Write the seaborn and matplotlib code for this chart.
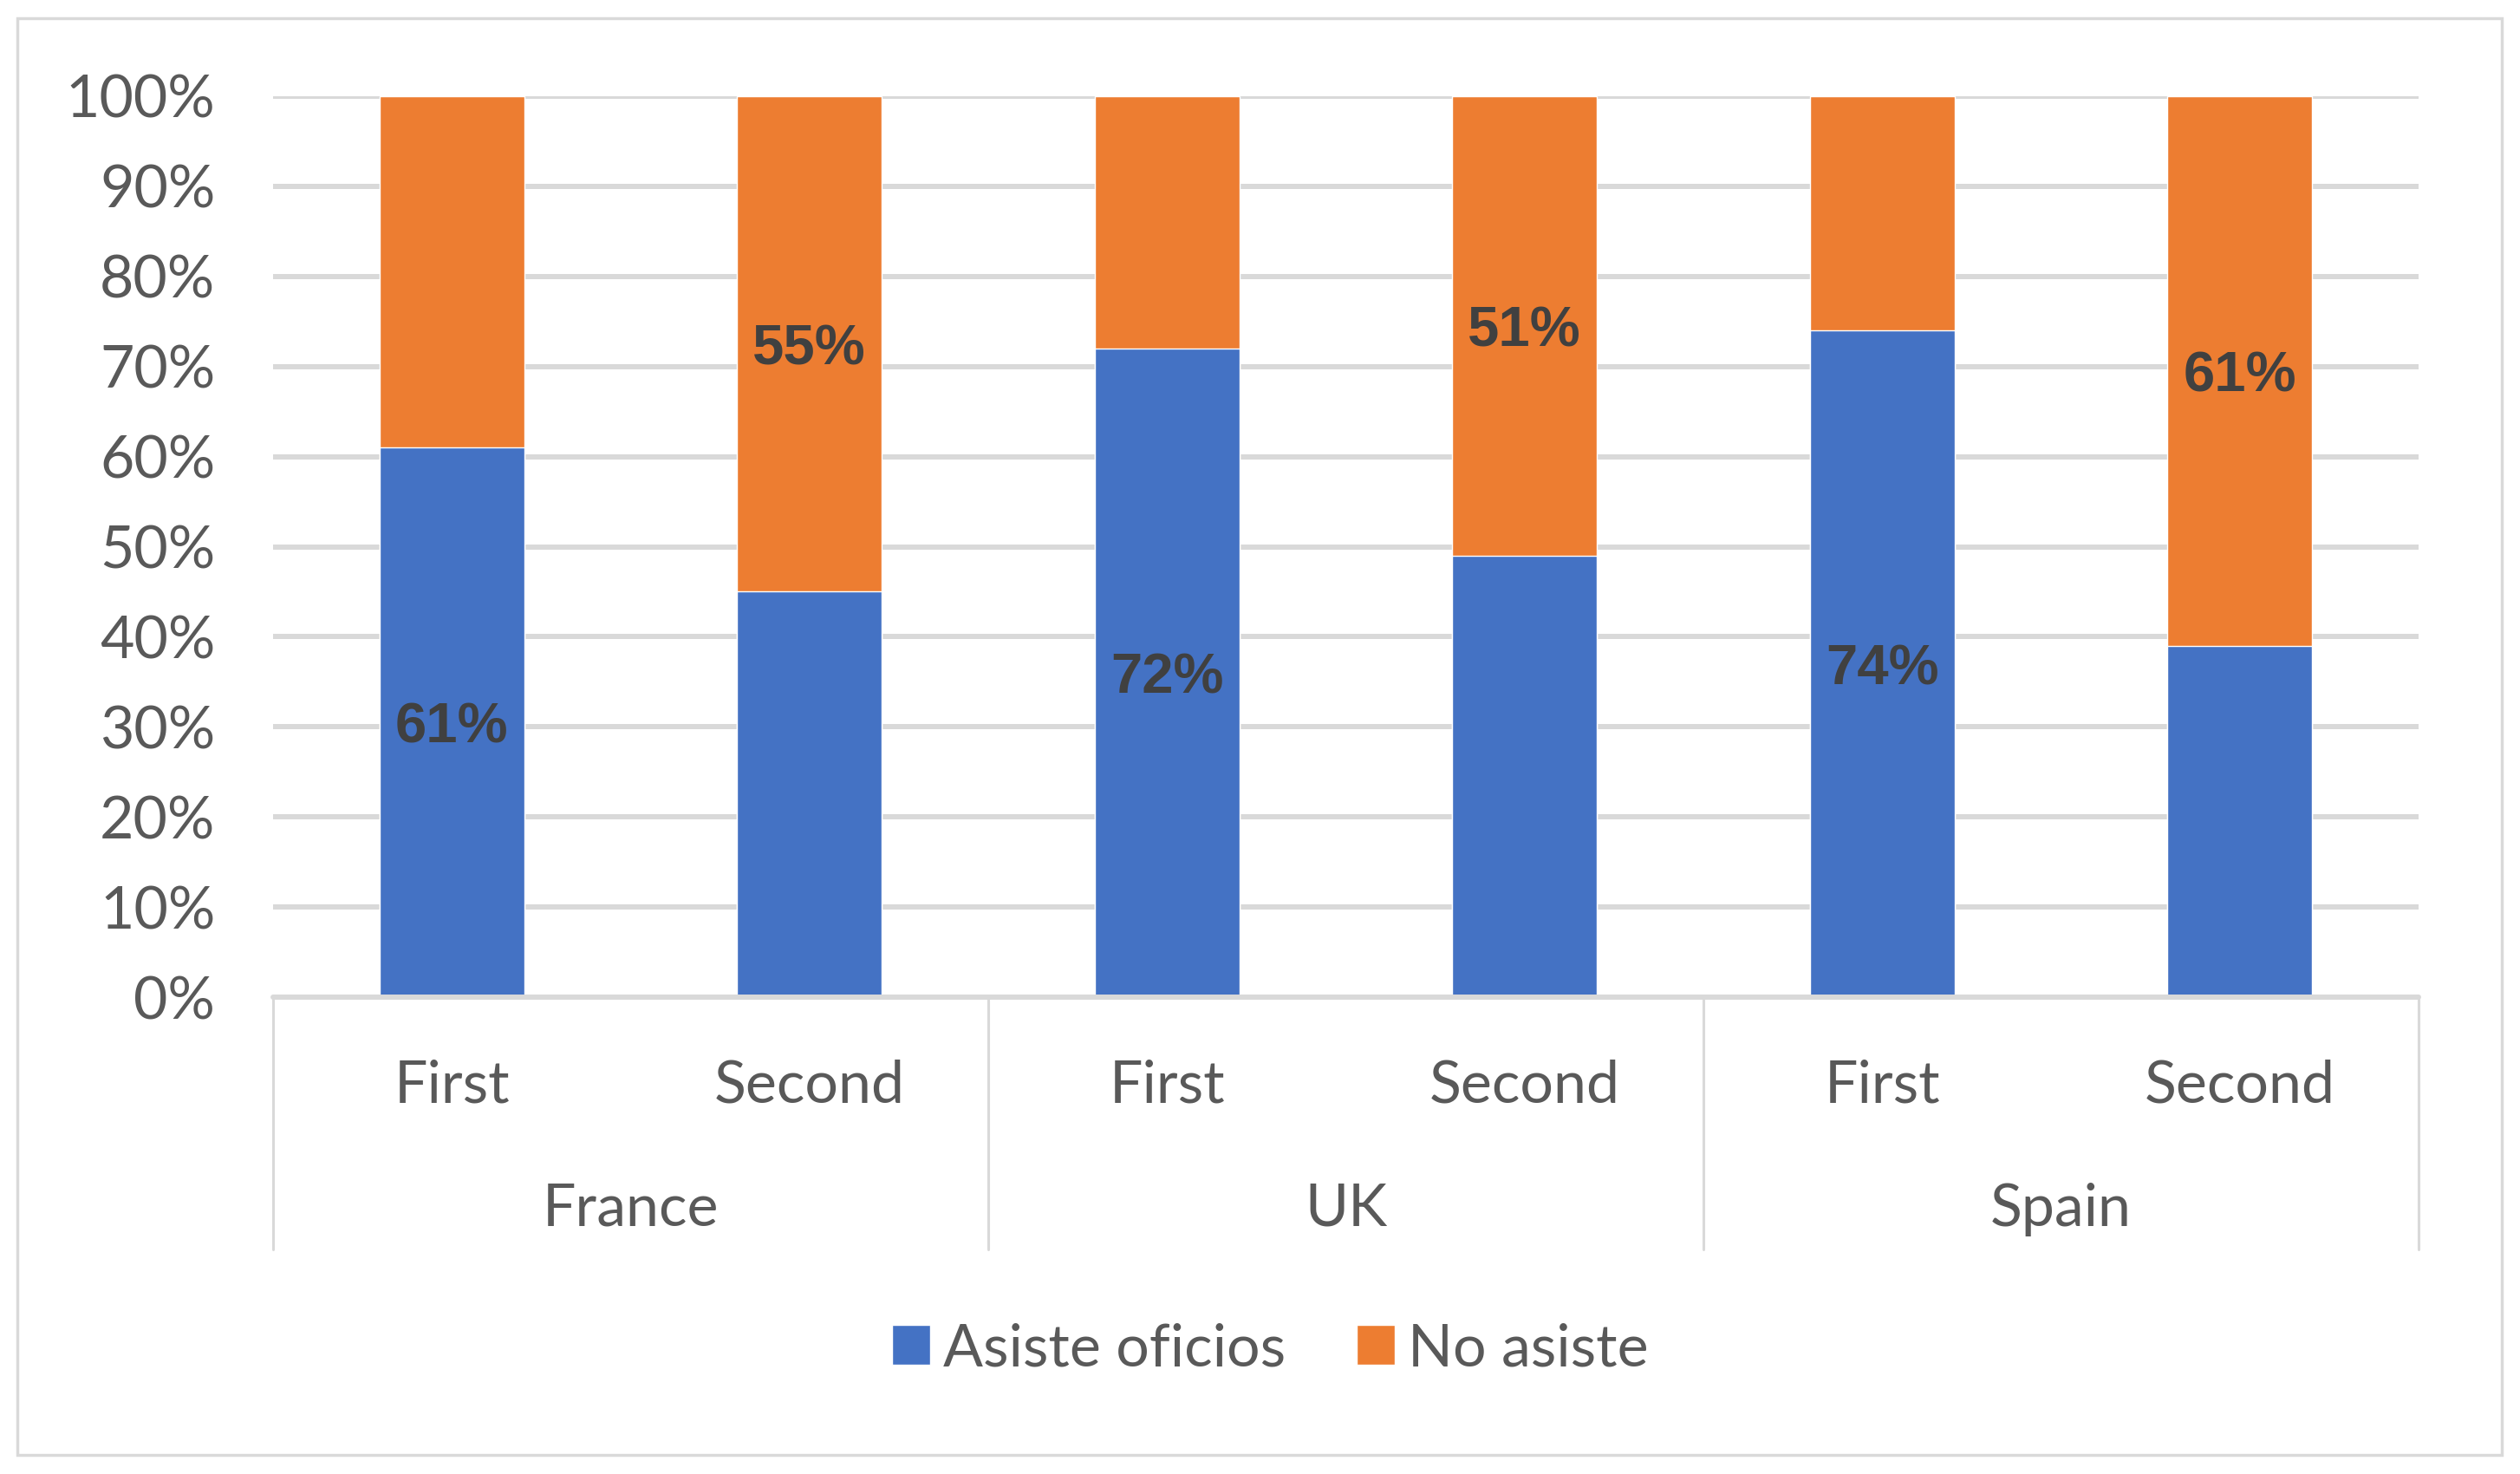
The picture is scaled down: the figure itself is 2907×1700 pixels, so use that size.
import numpy as np
import pandas as pd
import seaborn as sns
import matplotlib.pyplot as plt
from matplotlib.patches import Patch, Rectangle

countries = ['France', 'UK', 'Spain']
rounds = ['First', 'Second']
asiste = [61, 45, 72, 49, 74, 39]
no_asiste = [39, 55, 28, 51, 26, 61]

blue = '#4472C4'
orange = '#ED7D31'
grid_c = '#D9D9D9'
tick_c = '#595959'

sns.set_theme(style="white")
plt.rcParams['font.family'] = ['Lato', 'DejaVu Sans']

keys = [f'{c} {r}' for c in countries for r in rounds]
data = pd.DataFrame({'key': keys, 'Asiste oficios': asiste, 'No asiste': no_asiste})
data['total'] = data['Asiste oficios'] + data['No asiste']

fig = plt.figure(figsize=(29.07, 17), dpi=100)
ax = fig.add_axes([315 / 2907, 1 - 1150 / 1700, (2790 - 315) / 2907, (1150 - 111) / 1700])

# stacked look: full bar in orange, blue part drawn over it
sns.barplot(data=data, x='key', y='total', color=orange, width=0.405, errorbar=None,
            saturation=1, ax=ax, zorder=3)
sns.barplot(data=data, x='key', y='Asiste oficios', color=blue, width=0.405, errorbar=None,
            saturation=1, ax=ax, zorder=4)

ax.set_xlim(-0.5, len(keys) - 0.5)
ax.set_ylim(0, 100)
ax.set_yticks(np.arange(0, 101, 10))
ax.set_yticklabels([f'{v}%' for v in range(0, 101, 10)], fontsize=49, color=tick_c)
ax.tick_params(axis='y', length=0, pad=48)
ax.set_xticks([])
ax.set_xlabel('')
ax.set_ylabel('')
for s in ax.spines.values():
    s.set_visible(False)
ax.grid(False)
for v in range(10, 101, 10):
    ax.axhline(v, color=grid_c, lw=4.3, zorder=1)
ax.axhline(0, color=grid_c, lw=4.3, zorder=5, clip_on=False)

# value labels on the bigger segment
for i, (a, n) in enumerate(zip(asiste, no_asiste)):
    if a >= n:
        ax.text(i, a / 2, f'{a}%', ha='center', va='center_baseline', fontsize=47,
                fontweight='bold', color='#404040', family='Liberation Sans', zorder=6)
    else:
        ax.text(i, a + n / 2, f'{n}%', ha='center', va='center_baseline', fontsize=47,
                fontweight='bold', color='#404040', family='Liberation Sans', zorder=6)

# two-level category axis
tr = ax.get_xaxis_transform()
h = 1150 - 111
for i, k in enumerate(keys):
    ax.text(i, -102 / h, rounds[i % 2], transform=tr, ha='center', va='center',
            fontsize=49, color=tick_c)
for j, c in enumerate(countries):
    ax.text(j * 2 + 0.5, -245 / h, c, transform=tr, ha='center', va='center',
            fontsize=49, color=tick_c)
for j in range(len(countries) + 1):
    ax.plot([j * 2 - 0.5, j * 2 - 0.5], [0, -(1441 - 1150) / h], transform=tr,
            color=grid_c, lw=2.2, clip_on=False, zorder=5)

handles = [Patch(facecolor=blue, label='Asiste oficios'), Patch(facecolor=orange, label='No asiste')]
fig.legend(handles=handles, loc='center', bbox_to_anchor=(1465 / 2907, 1 - 1556 / 1700),
           ncol=2, frameon=False, fontsize=49, labelcolor=tick_c,
           handlelength=0.65, handleheight=0.65, handletextpad=0.22, columnspacing=1.2)

fig.patches.append(Rectangle((20 / 2907, 1 - 1678 / 1700), (2886 - 20) / 2907, (1678 - 21) / 1700,
                             transform=fig.transFigure, fill=False, edgecolor=grid_c, lw=2.5))

fig.savefig('out.png', dpi=100)
